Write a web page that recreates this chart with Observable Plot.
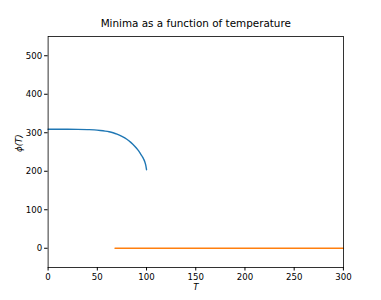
<!DOCTYPE html>
<html>
<head>
<meta charset="utf-8">
<script src="https://cdn.jsdelivr.net/npm/d3@7"></script>
<script src="https://cdn.jsdelivr.net/npm/@observablehq/plot@0.6"></script>
<style>
  html, body { margin: 0; padding: 0; background: #fff; }
  svg { font-family: "DejaVu Sans", sans-serif; }
</style>
</head>
<body>
<div id="chart"></div>
<script>
const title = "Minima as a function of temperature";
const xLabel = "T";
const yLabel = "ϕ(T)";
const xTicks = [0, 50, 100, 150, 200, 250, 300];
const yTicks = [0, 100, 200, 300, 400, 500];

// Blue branch
const blueT   = [0, 20, 30, 40, 47, 53, 58, 62, 66, 70, 75, 80, 84, 88, 91, 93.5, 95.5, 97, 98.3, 99.2, 99.7, 100];
const bluePhi = [309, 309, 308.8, 308.2, 307.5, 306, 304.3, 302.5, 300, 296.5, 290.5, 283, 275, 265, 256, 247, 239, 232, 224, 216, 209, 204];

// Orange branch
const orangeT   = [68, 300];
const orangePhi = [0, 0];

const blue = blueT.map((t, i) => ({T: t, phi: bluePhi[i]}));
const orange = orangeT.map((t, i) => ({T: t, phi: orangePhi[i]}));

const chart = Plot.plot({
  width: 381,
  height: 300,
  marginLeft: 47.6,
  marginRight: 38.1,
  marginTop: 36,
  marginBottom: 33,
  style: {fontFamily: "DejaVu Sans, sans-serif", fontSize: "8.6px", background: "#fff", color: "#000"},
  x: {domain: [0, 300]},
  y: {domain: [-50, 550]},
  marks: [
    Plot.axisX({ticks: xTicks, tickSize: 3.5, tickPadding: 3, fontSize: 8.6, label: null, stroke: "#000"}),
    Plot.axisY({ticks: yTicks, tickSize: 3.5, tickPadding: 2.5, fontSize: 8.6, label: null, stroke: "#000"}),
    Plot.line(blue, {x: "T", y: "phi", stroke: "#1f77b4", strokeWidth: 1.4, curve: "monotone-x"}),
    Plot.line(orange, {x: "T", y: "phi", stroke: "#ff7f0e", strokeWidth: 1.4}),
    Plot.frame({stroke: "#000", strokeWidth: 0.8}),
    Plot.text([title], {frameAnchor: "top", dy: -10, text: d => d, fontSize: 10.4, fill: "#000", lineAnchor: "bottom"}),
    Plot.text([xLabel], {frameAnchor: "bottom", dy: 22, text: d => d, fontSize: 8.6, fontStyle: "italic", fill: "#000"}),
    Plot.text([yLabel], {frameAnchor: "left", dx: -29, rotate: -90, text: d => d, fontSize: 8.6, fontStyle: "italic", fill: "#000"})
  ]
});
document.getElementById("chart").appendChild(chart);
</script>
</body>
</html>
